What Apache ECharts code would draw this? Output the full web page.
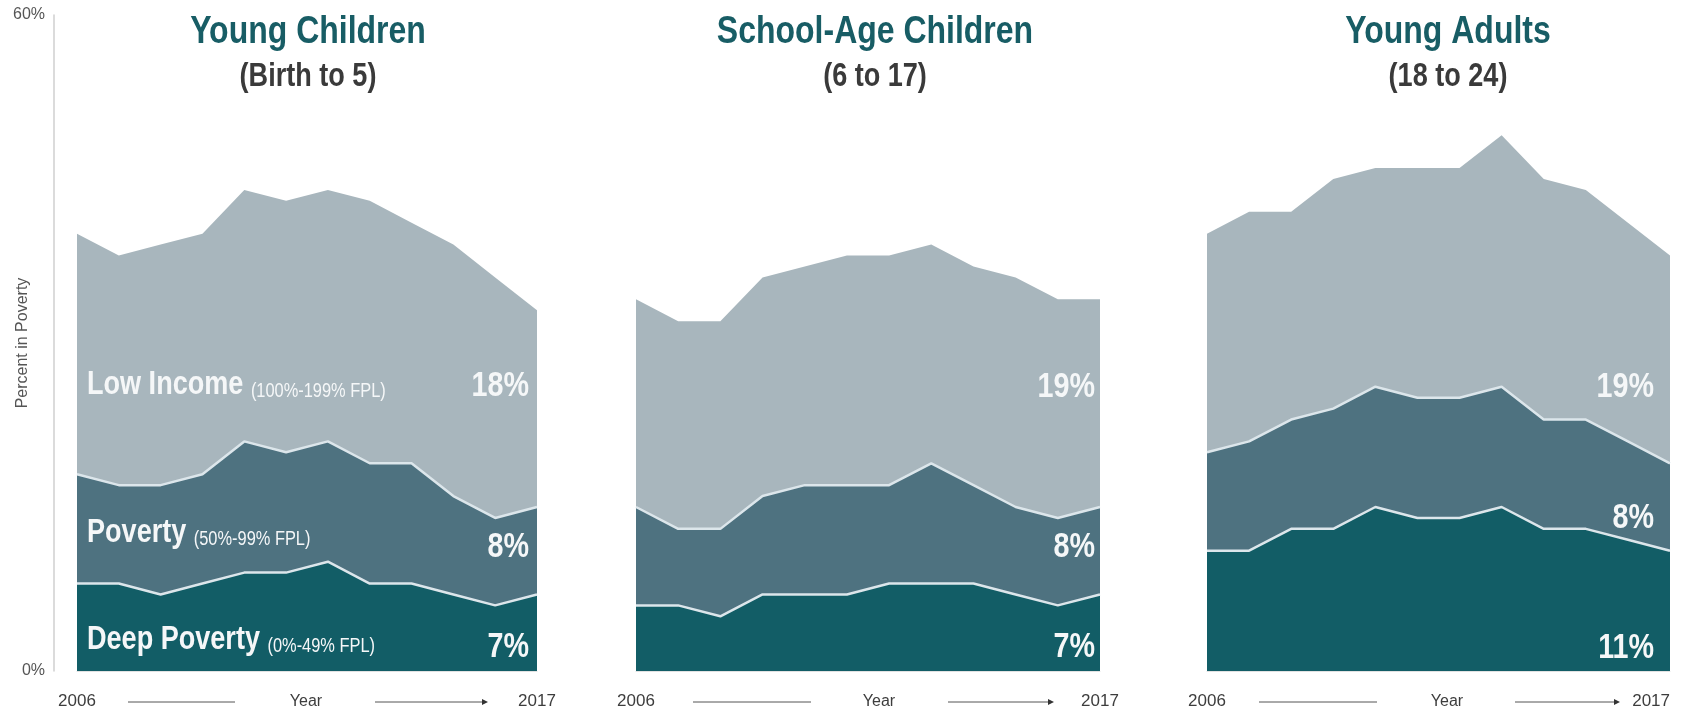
<!DOCTYPE html>
<html>
<head>
<meta charset="utf-8">
<script src="https://cdn.jsdelivr.net/npm/echarts@6/dist/echarts.min.js"></script>
<style>
  html, body { margin: 0; padding: 0; background: #ffffff; }
  #chart { width: 1694px; height: 714px; }
</style>
</head>
<body>
<div id="chart"></div>
<script>
// years on the x axis
const years = ['2006', '2007', '2008', '2009', '2010', '2011', '2012', '2013', '2014', '2015', '2016', '2017'];

// Young Children (Birth to 5) - percent per band, stacked
const ycDeep = [8, 8, 7, 8, 9, 9, 10, 8, 8, 7, 6, 7];
const ycPov = [10, 9, 10, 10, 12, 11, 11, 11, 11, 9, 8, 8];
const ycLow = [22, 21, 22, 22, 23, 23, 23, 24, 22, 23, 22, 18];

// School-Age Children (6 to 17)
const saDeep = [6, 6, 5, 7, 7, 7, 8, 8, 8, 7, 6, 7];
const saPov = [9, 7, 8, 9, 10, 10, 9, 11, 9, 8, 8, 8];
const saLow = [19, 19, 19, 20, 20, 21, 21, 20, 20, 21, 20, 19];

// Young Adults (18 to 24)
const yaDeep = [11, 11, 13, 13, 15, 14, 14, 15, 13, 13, 12, 11];
const yaPov = [9, 10, 10, 11, 11, 11, 11, 11, 10, 10, 9, 8];
const yaLow = [20, 21, 19, 21, 20, 21, 21, 23, 22, 21, 20, 19];

const titles = ['Young Children', 'School-Age Children', 'Young Adults'];
const subtitles = ['(Birth to 5)', '(6 to 17)', '(18 to 24)'];
const bandNames = ['Deep Poverty', 'Poverty', 'Low Income'];
const bandRanges = ['(0%-49% FPL)', '(50%-99% FPL)', '(100%-199% FPL)'];
const yTicks = [0, 60];

const FONT = "'Liberation Sans', Arial, sans-serif";
const NARROW = 0.82; // horizontal squeeze to mimic a narrow face
const colors = ['#125d66', '#4e7280', '#a8b6bd'];
const edge = '#dce6eb';
const white = '#f5f7f8';

// layout of the three panels (pixels)
const layout = [
  { left: 77, width: 460, titleX: 308, valueX: 529, yearX: 306, line1: [128, 235], line2: [375, 488], valueY: [647, 547, 386], lastRight: false },
  { left: 636, width: 464, titleX: 875, valueX: 1095, yearX: 879, line1: [693, 811], line2: [948, 1054], valueY: [647, 547, 387], lastRight: false },
  { left: 1207, width: 463, titleX: 1448, valueX: 1654, yearX: 1447, line1: [1259, 1377], line2: [1515, 1620], valueY: [648, 518, 387], lastRight: true }
];
const panelData = [[ycDeep, ycPov, ycLow], [saDeep, saPov, saLow], [yaDeep, yaPov, yaLow]];

function narrowText(x, y, text, size, color, weight, align) {
  return {
    type: 'text', x: x, y: y, z: 100, scaleX: NARROW,
    style: {
      text: text, fill: color, fontSize: size, fontWeight: weight,
      fontFamily: FONT, align: align, verticalAlign: 'middle'
    }
  };
}

let myChart = echarts.init(document.getElementById('chart'));

const grid = [], xAxis = [], yAxis = [], series = [], graphic = [];

layout.forEach(function (p, i) {
  grid.push({ left: p.left, width: p.width, top: 15, bottom: 43, containLabel: false, outerBoundsMode: 'none' });
  xAxis.push({
    type: 'category', gridIndex: i, data: years, boundaryGap: false,
    axisTick: { show: false },
    axisLine: { show: true, lineStyle: { color: '#e2e2e2', width: 1 } },
    axisLabel: {
      interval: function (idx) { return idx === 0 || idx === years.length - 1; },
      alignMaxLabel: p.lastRight ? 'right' : null,
      margin: 22, fontSize: 17, color: '#3d3d3d', fontFamily: FONT
    }
  });
  yAxis.push({
    type: 'value', gridIndex: i, min: yTicks[0], max: yTicks[1], interval: 60,
    show: i === 0,
    offset: 23,
    name: i === 0 ? 'Percent in Poverty' : '',
    nameLocation: 'middle', nameGap: 23, nameRotate: 90, nameMoveOverlap: false,
    nameTextStyle: { fontSize: 16, color: '#555', fontFamily: FONT },
    splitLine: { show: false },
    axisTick: { show: false },
    axisLine: { show: true, lineStyle: { color: '#cfcfcf', width: 1.5 } },
    axisLabel: { formatter: '{value}%', fontSize: 16, color: '#555', margin: 9, fontFamily: FONT }
  });

  panelData[i].forEach(function (vals, b) {
    series.push({
      type: 'line', name: bandNames[b], xAxisIndex: i, yAxisIndex: i,
      stack: 'panel' + i, data: vals, symbol: 'none', smooth: false,
      z: 5 - b,
      lineStyle: b === 2 ? { width: 0, color: colors[2] } : { width: 2.5, color: edge },
      areaStyle: { color: colors[b], opacity: 1 },
      emphasis: { disabled: true }
    });
    // value at 2017 for each band
    graphic.push(narrowText(p.valueX, p.valueY[b], vals[vals.length - 1] + '%', 35, white, 'bold', 'right'));
  });

  // panel titles
  graphic.push(narrowText(p.titleX, 32, titles[i], 39, '#185d65', 'bold', 'center'));
  graphic.push(narrowText(p.titleX, 77, subtitles[i], 33, '#3a3a3a', 'bold', 'center'));

  // bottom "2006 ---- Year ----> 2017"
  graphic.push({ type: 'text', x: p.yearX, y: 702, style: { text: 'Year', fontSize: 16, fill: '#3d3d3d', fontFamily: FONT, align: 'center', verticalAlign: 'middle' } });
  graphic.push({ type: 'line', shape: { x1: p.line1[0], y1: 702, x2: p.line1[1], y2: 702 }, style: { stroke: '#555', lineWidth: 1 } });
  graphic.push({ type: 'line', shape: { x1: p.line2[0], y1: 702, x2: p.line2[1] - 4, y2: 702 }, style: { stroke: '#555', lineWidth: 1 } });
  graphic.push({ type: 'polygon', shape: { points: [[p.line2[1] - 6, 699], [p.line2[1], 702], [p.line2[1] - 6, 705]] }, style: { fill: '#333' } });
});

// band names inside the first panel
const bandY = [638, 531, 383];
bandNames.forEach(function (n, b) {
  graphic.push({
    type: 'text', x: 87, y: bandY[b], z: 100, scaleX: NARROW,
    style: {
      text: '{a|' + n + ' }{b|' + bandRanges[b] + '}',
      verticalAlign: 'middle', align: 'left',
      rich: {
        a: { fontSize: 33, fontWeight: 'bold', fill: white, color: white, fontFamily: FONT, lineHeight: 36, verticalAlign: 'bottom' },
        b: { fontSize: 20, fill: white, color: white, fontFamily: FONT, lineHeight: 36, verticalAlign: 'bottom' }
      }
    }
  });
});

const option = {
  animation: false,
  backgroundColor: '#ffffff',
  grid: grid,
  xAxis: xAxis,
  yAxis: yAxis,
  series: series,
  graphic: graphic
};
myChart.setOption(option);
</script>
</body>
</html>
